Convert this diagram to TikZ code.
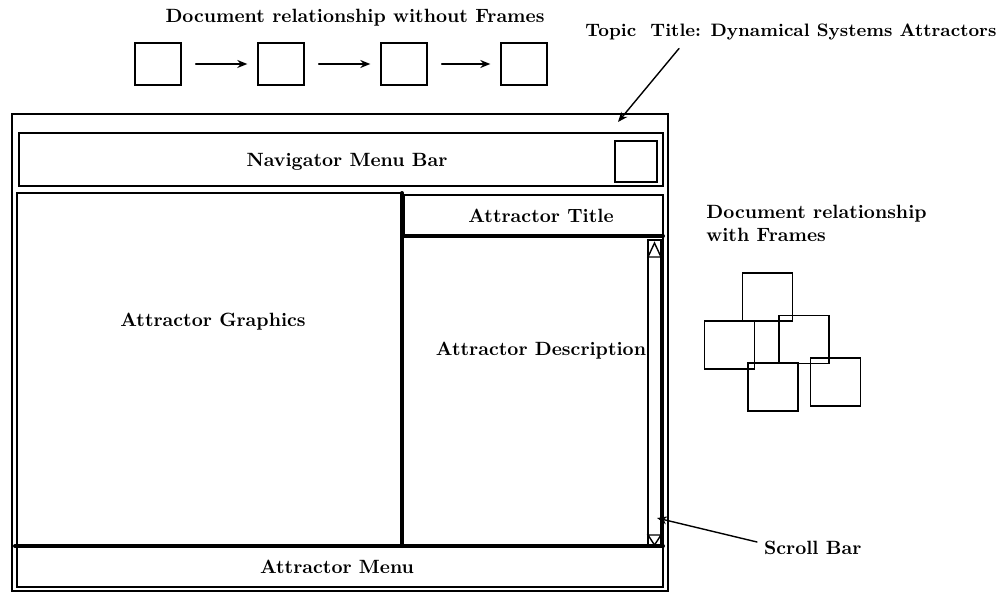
\documentclass[tikz,border=0pt]{standalone}
\usetikzlibrary{arrows.meta,positioning}
\begin{document}
\begin{tikzpicture}[x=0.5pt,y=-0.5pt,>={Stealth[length=5pt,width=4pt]},font=\fontsize{9.6}{11.5}\selectfont\bfseries,line cap=round,
  docbox/.style={draw,line width=0.7pt,minimum width=23pt,minimum height=21pt,inner sep=0pt},
  frmbox/.style={draw,line width=0.7pt,minimum width=25pt,minimum height=24pt,inner sep=0pt},
  pane/.style={line width=0.7pt},
  divider/.style={line width=2pt}]
\useasboundingbox (0,0) rectangle (1000,593);
% documents without frames
\node (cap1) at (355,18) {Document relationship without Frames};
\node[docbox] (d1) at (158,64) {};
\node[docbox] (d2) at (281,64) {};
\node[docbox] (d3) at (404,64) {};
\node[docbox] (d4) at (524,64) {};
\draw[->,line width=0.7pt,shorten <=7pt,shorten >=5pt] (d1) -- (d2);
\draw[->,line width=0.7pt,shorten <=7pt,shorten >=5pt] (d2) -- (d3);
\draw[->,line width=0.7pt,shorten <=7pt,shorten >=5pt] (d3) -- (d4);
% topic title
\node[anchor=west,inner sep=0pt,font=\fontsize{9}{11}\selectfont\bfseries] (topic) at (585,32) {Topic\ \ Title: Dynamical Systems Attractors};
\coordinate (tt) at (618,122);
\draw[->,line width=0.7pt] ([xshift=47pt,yshift=-4pt]topic.south west) -- (tt);
% window
\draw[pane] (12,114) rectangle (668,591);
\draw[pane] (19,133) rectangle (663,186);
\node (nav) at (347,162) {Navigator Menu Bar};
\draw[pane] (615,141) rectangle (657,182);
\draw[pane] (17,193) rectangle (402,546);
\node (gfx) at (213,322) {Attractor Graphics};
\draw[pane] (404,195) rectangle (663,236);
\node (ttl) at (541,216) {Attractor Title};
\draw[pane] (663,236) -- (663,546);
\node (dsc) at (541,351) {Attractor Description};
\draw[divider] (402,193) -- (402,546);
\draw[divider] (404,236) -- (663,236);
% scroll bar
\draw[pane] (648,240) rectangle (661,545);
\draw[pane] (648,257) -- (654.5,243) -- (661,257) -- cycle;
\draw[pane] (648,535) -- (654.5,545) -- (661,535) -- cycle;
\draw[divider] (15,546) -- (663,546);
\draw[pane] (17,547) rectangle (663,587);
\node (menu) at (337,567) {Attractor Menu};
\node[anchor=west] (sb) at (757,548) {Scroll Bar};
\coordinate (sbt) at (657,518);
\draw[->,line width=0.7pt] ([yshift=3pt]sb.west) -- (sbt);
% documents with frames
\node[anchor=north west,align=left,inner sep=0pt] (cap2) at (706,205) {Document relationship\\with Frames};
\node[frmbox] (f1) at (767.5,297) {};
\node[frmbox] (f2) at (729.5,345) {};
\node[frmbox] (f3) at (804,339.5) {};
\node[frmbox] (f4) at (773,387) {};
\node[frmbox] (f5) at (835.5,382) {};
\end{tikzpicture}
\end{document}
